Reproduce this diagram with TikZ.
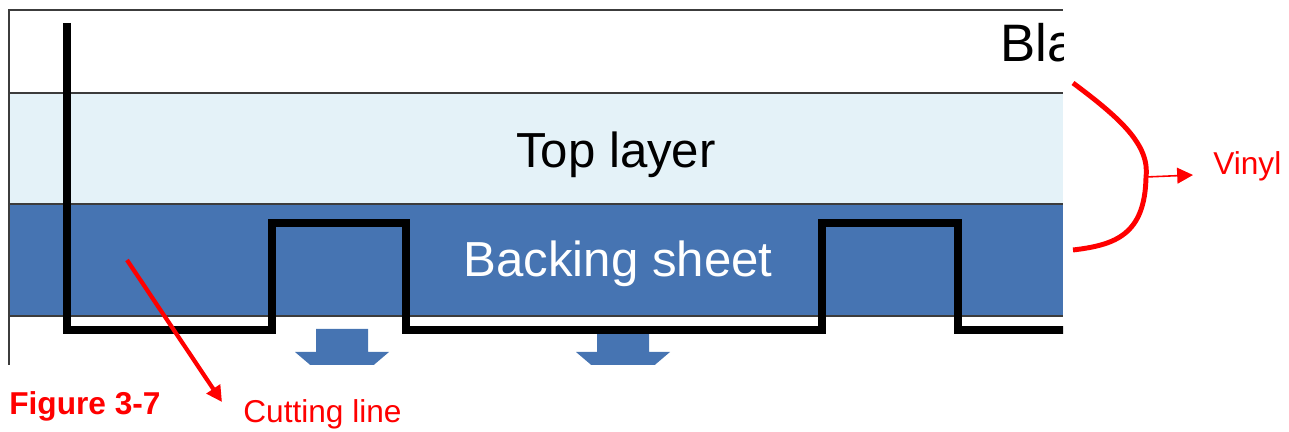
\documentclass[tikz,border=0pt]{standalone}
\usepackage{fontspec}
\setmainfont{Liberation Sans}
\usepackage{tikz}
\usetikzlibrary{arrows.meta,positioning}
\definecolor{TopBlue}{RGB}{228,242,248}
\definecolor{BackBlue}{RGB}{70,116,178}
\definecolor{MarkRed}{RGB}{255,0,0}
\definecolor{FrameGray}{RGB}{60,60,60}

\begin{document}
\begin{tikzpicture}[
  x=0.02cm, y=-0.02cm,
  layer/.style={draw=FrameGray, line width=0.6pt},
  cutpath/.style={line width=4pt, line join=miter, black},
  push/.style={fill=BackBlue, draw=none},
  redline/.style={MarkRed, line width=2.4pt},
  bigtext/.style={font=\fontsize{28}{32}\selectfont, inner sep=0pt},
  redtext/.style={text=MarkRed, font=\fontsize{18}{21}\selectfont, inner sep=0pt}
]
\useasboundingbox (0,0) rectangle (1289,432);

\begin{scope}
\clip (9,10) rectangle (1063,365);
\fill[TopBlue] (9,93) rectangle (1063,204);
\fill[BackBlue] (9,204) rectangle (1063,316);
\foreach \y in {93,204,316}
  \draw[layer] (9,\y) -- (1063,\y);

% block arrows under the sheet
\foreach \cx in {342,623}
  \fill[push] (\cx-26,329) -- (\cx+26,329) -- (\cx+26,352) -- (\cx+47,352)
    -- (\cx,392) -- (\cx-47,352) -- (\cx-26,352) -- cycle;

% cutting line
\draw[cutpath] (67,23) |- (272,330) |- (406,223) |- (822,330) |- (958,223) |- (1075,330);

\node[bigtext, font=\fontsize{30}{34}\selectfont, anchor=base west] (blade) at (1000,62) {Bla};
\node[bigtext, anchor=base] (toplbl) at (616,168) {Top layer};
\node[bigtext, text=white, anchor=base] (backlbl) at (618,277) {Backing sheet};
\end{scope}
\draw[FrameGray, line width=0.8pt] (9,365) -- (9,10) -- (1063,10);

% labels
\node[redtext, font=\fontsize{18}{21}\selectfont\bfseries, anchor=base west] (figno) at (9,415) {Figure 3-7};
\node[redtext, anchor=base west] (cutlbl) at (243,422) {Cutting line};
\node[redtext, anchor=base west] (vinyl) at (1213,175) {Vinyl};

\coordinate (cutfrom) at (127,260);
\coordinate (cutto) at (222,402);
\draw[redline, -{Triangle[length=9pt,width=9pt]}] (cutfrom) -- (cutto);

\draw[redline, line width=2.8pt] (1073,83) .. controls (1120,118) and (1150,145) .. (1146,177)
  coordinate (vmid) .. controls (1145,235) and (1115,245) .. (1073,250);
\coordinate (vtip) at (1193,175);
\draw[MarkRed, line width=0.9pt, -{Triangle[length=9pt,width=9pt]}] (vmid) -- (vtip);
\end{tikzpicture}
\end{document}
